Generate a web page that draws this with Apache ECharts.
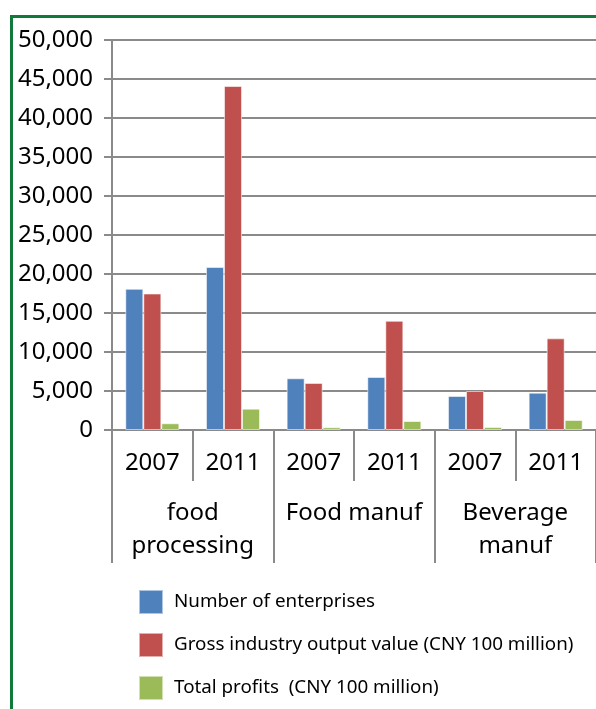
<!DOCTYPE html>
<html>
<head>
<meta charset="utf-8">
<script src="https://cdn.jsdelivr.net/npm/echarts@6/dist/echarts.min.js"></script>
<style>
html,body{margin:0;padding:0;background:#fff;overflow:hidden;}
#wrap{position:relative;width:596px;height:709px;overflow:hidden;}
#c{width:596px;height:709px;}
#frame{position:absolute;left:10px;top:15px;width:600px;height:710px;border-top:3px solid #117a3a;border-left:3px solid #117a3a;pointer-events:none;box-sizing:border-box;}
</style>
</head>
<body>
<div id="wrap">
<div id="c"></div>
<div id="frame"></div>
</div>
<script>
const years = ['2007','2011','2007','2011','2007','2011'];
const groups = ['food\nprocessing','Food manuf','Beverage\nmanuf'];
const seriesNames = ['Number of enterprises','Gross industry output value (CNY 100 million)','Total profits  (CNY 100 million)'];
const enterprises = [18100, 20900, 6630, 6800, 4360, 4780];
const outputValue = [17500, 44100, 6030, 14000, 5000, 11750];
const profits = [860, 2730, 350, 1150, 380, 1280];
const yTicks = [0, 5000, 10000, 15000, 20000, 25000, 30000, 35000, 40000, 45000, 50000];
const colors = ['#4F81BD', '#C0504D', '#9BBB59'];

const chart = echarts.init(document.getElementById('c'), null, {renderer:'canvas'});
const font = 'Noto Sans';
const gray = '#8a8a8a';
const mk = (name, data, i) => ({
  name: name, type: 'bar', data: data, xAxisIndex: 0,
  barGap: '0%', barCategoryGap: '33%',
  itemStyle: {color: colors[i], borderColor: 'rgba(255,255,255,0.55)', borderWidth: 1}
});
chart.setOption({
  animation: false,
  textStyle: {fontFamily: font},
  color: colors,
  grid: {left: 112, right: -2, top: 40, bottom: 279, containLabel: false},
  legend: {
    orient: 'vertical', left: 138, top: 589, itemWidth: 24, itemHeight: 24, itemGap: 17,
    icon: 'rect', padding: 0,
    textStyle: {fontFamily: font, fontSize: 18.8, lineHeight: 24, color: '#000', padding: [0,0,0,6]},
    data: seriesNames
  },
  xAxis: [
    {
      type: 'category', data: years, position: 'bottom',
      axisLine: {show: true, lineStyle: {color: gray, width: 2}},
      axisTick: {show: true, length: 51, interval: 0, alignWithLabel: false, lineStyle: {color: gray, width: 2}},
      axisLabel: {interval: 0, fontFamily: font, fontSize: 24, lineHeight: 24, color: '#000', margin: 21},
      splitLine: {show: false}
    },
    {
      type: 'category', data: groups, position: 'bottom',
      axisLine: {show: false},
      axisTick: {show: true, length: 133, interval: 0, alignWithLabel: false, lineStyle: {color: gray, width: 2}},
      axisLabel: {interval: 0, fontFamily: font, fontSize: 24, lineHeight: 33, color: '#000', margin: 67},
      splitLine: {show: false}
    }
  ],
  yAxis: {
    type: 'value', min: yTicks[0], max: yTicks[yTicks.length-1], interval: yTicks[1]-yTicks[0],
    axisLine: {show: true, lineStyle: {color: gray, width: 2}},
    axisTick: {show: true, length: 8, lineStyle: {color: gray, width: 2}},
    axisLabel: {fontFamily: font, fontSize: 24, color: '#000', margin: 19,
      formatter: v => v.toLocaleString('en-US')},
    splitLine: {show: true, lineStyle: {color: gray, width: 2}}
  },
  series: [
    mk(seriesNames[0], enterprises, 0),
    mk(seriesNames[1], outputValue, 1),
    mk(seriesNames[2], profits, 2)
  ]
});
</script>
</body>
</html>
